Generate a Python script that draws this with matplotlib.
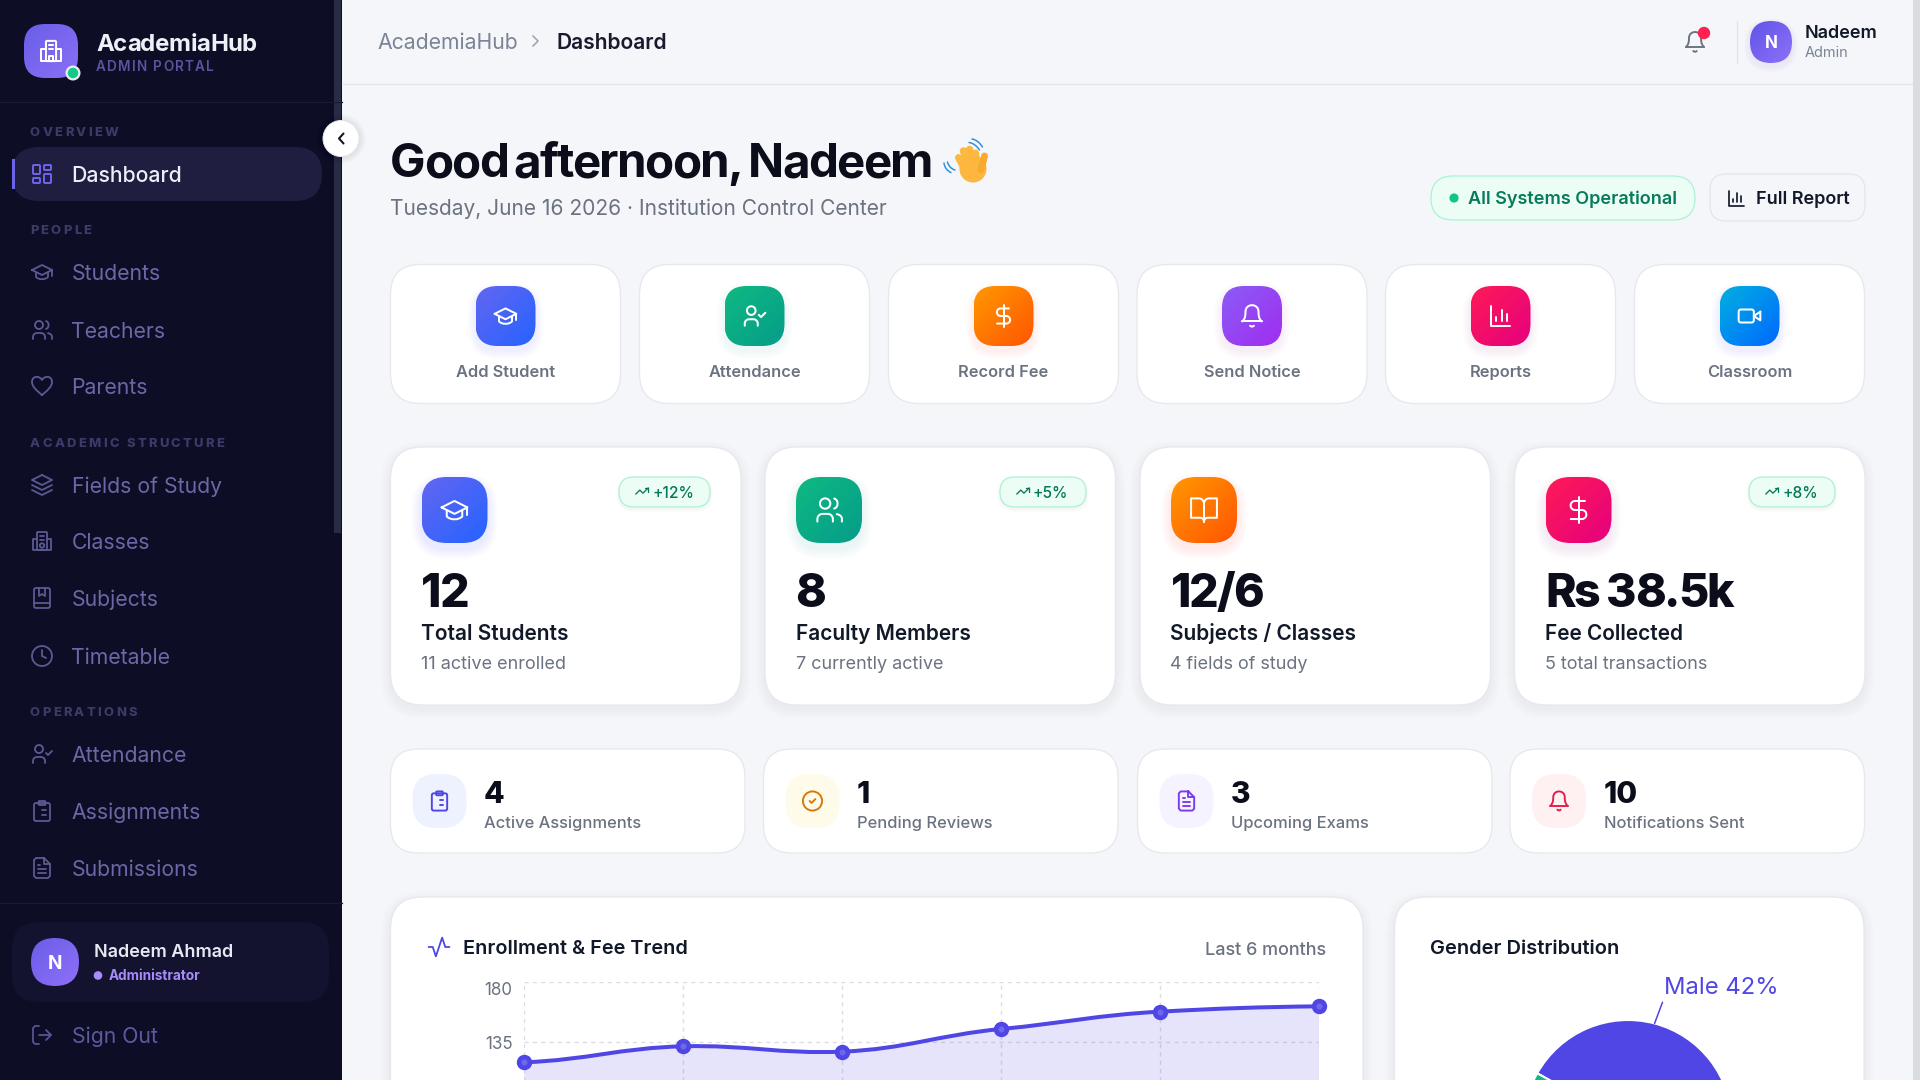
import numpy as np
import matplotlib
matplotlib.use('Agg')
import matplotlib.pyplot as plt
from matplotlib.patches import FancyBboxPatch, Circle, PathPatch
from matplotlib.path import Path
from matplotlib.colors import LinearSegmentedColormap
from matplotlib.font_manager import FontProperties

plt.rcParams['font.family'] = ['Inter', 'DejaVu Sans']

W, H = 1920, 1080

# sidebar
nav_sections = ['OVERVIEW', 'PEOPLE', 'ACADEMIC STRUCTURE', 'OPERATIONS']
nav_section_y = [131, 229, 442, 711]
nav_items = ['Students', 'Teachers', 'Parents', 'Fields of Study', 'Classes', 'Subjects',
             'Timetable', 'Attendance', 'Assignments', 'Submissions']
nav_icons = ['cap', 'users', 'heart', 'layers', 'school', 'bookmark', 'clock', 'usercheck', 'clipboard', 'file']
nav_y = [272, 330, 386, 485, 541, 598, 656, 754, 811, 868]

# quick actions
action_names = ['Add Student', 'Attendance', 'Record Fee', 'Send Notice', 'Reports', 'Classroom']
action_icons = ['cap', 'usercheck', 'dollar', 'bell', 'bars', 'video']
action_left = [390.5, 639.5, 888.5, 1137, 1385.5, 1634.5]
action_c1 = ['#6366f1', '#10b981', '#ff9800', '#8b5cf6', '#ff1a56', '#00b0e0']
action_c2 = ['#2563ff', '#059c8a', '#ff5500', '#a02df0', '#e5007f', '#0068ff']

# stat cards
stat_values = ['12', '8', '12/6', 'Rs 38.5k']
stat_labels = ['Total Students', 'Faculty Members', 'Subjects / Classes', 'Fee Collected']
stat_subs = ['11 active enrolled', '7 currently active', '4 fields of study', '5 total transactions']
stat_badges = ['+12%', '+5%', None, '+8%']
stat_icons = ['cap', 'users', 'book', 'dollar']
stat_left = [390.5, 765, 1140, 1514.5]
stat_c1 = ['#6366f1', '#10b981', '#ff9800', '#ff1a56']
stat_c2 = ['#2563ff', '#059c8a', '#ff5500', '#e5007f']
badge_left = [619, 1000, None, 1749]

# mini cards
mini_values = ['4', '1', '3', '10']
mini_labels = ['Active Assignments', 'Pending Reviews', 'Upcoming Exams', 'Notifications Sent']
mini_icons = ['clipboard', 'circlecheck', 'file', 'bell']
mini_left = [390.5, 763.5, 1137.5, 1510]
mini_bg = ['#eef2ff', '#fffbeb', '#f5f3ff', '#fff1f2']
mini_fg = ['#4f46e5', '#d97706', '#7c3aed', '#e11d48']

# trend chart
trend_values = [120, 132, 128, 145, 158, 162]
trend_ticks = [0, 45, 90, 135, 180]
trend_tick_labels = ['', '', '', '135', '180']

# pie chart
gender_names = ['Male', 'Female']
gender_values = [42, 58]
gender_colors = ['#4f46e5', '#10b981']

INDIGO = '#4f46e5'
GRAY = '#6b7280'

fig = plt.figure(figsize=(19.2, 10.8), dpi=100, facecolor='#f5f6fa')
ax = fig.add_axes([0, 0, 1, 1])
ax.set_xlim(0, W)
ax.set_ylim(H, 0)
ax.axis('off')
renderer = fig.canvas.get_renderer()


def txt(x, y, s, px, color='#111827', weight='normal', ha='left', **kw):
    # y is the middle of the capitals
    return ax.text(x, y + 0.364 * px, s, fontsize=px * 0.72, color=color, fontweight=weight,
                   ha=ha, va='baseline', **kw)


def spaced(x, y, s, px, track, color='#111827', weight='normal', space=0):
    # matplotlib has no letter spacing, so place the letters one at a time
    prop = FontProperties(family='Inter', size=px * 0.72, weight=weight)
    for i, ch in enumerate(s):
        w = renderer.get_text_width_height_descent(s[:i], prop, False)[0] if i else 0
        txt(x + w + i * track + s[:i].count(' ') * space, y, ch, px, color, weight)


def box(x0, y0, x1, y1, r, fc, ec='none', lw=1.0, z=2, alpha=None):
    p = FancyBboxPatch((x0, y0), x1 - x0, y1 - y0, boxstyle=f'round,pad=0,rounding_size={r}',
                       fc=fc, ec=ec, lw=lw * 0.72, zorder=z, alpha=alpha)
    ax.add_patch(p)
    return p


def shadow(x0, y0, x1, y1, r, dy=4, spread=10, color='#111827', alpha=0.003, z=1.5):
    for i in range(spread):
        d = spread - i
        box(x0 - d, y0 - d + dy, x1 + d, y1 + d + dy, r + d, color, z=z, alpha=alpha)


def grad_box(x0, y0, x1, y1, r, c1, c2, z=3):
    cmap = LinearSegmentedColormap.from_list('g', [c1, c2])
    g = np.linspace(0, 1, 64)
    img = np.add.outer(g, g) / 2
    im = ax.imshow(img, extent=(x0, x1, y1, y0), cmap=cmap, aspect='auto', zorder=z, interpolation='bilinear')
    clip = FancyBboxPatch((x0, y0), x1 - x0, y1 - y0, boxstyle=f'round,pad=0,rounding_size={r}',
                          fc='none', ec='none', transform=ax.transData)
    ax.add_patch(clip)
    im.set_clip_path(clip)
    ax.set_xlim(0, W)
    ax.set_ylim(H, 0)


def card(x0, y0, x1, y1, r, sh=False):
    if sh:
        shadow(x0, y0, x1, y1, r)
    box(x0, y0, x1, y1, r, 'white', '#e6e8ed', 1.3)


# line icons, drawn on a 24 unit grid with y going down
def stroke(cx, cy, s, color, lw, verts, codes=None, closed=False, z=6):
    v = np.array(verts, float)
    v = np.column_stack([cx + (v[:, 0] - 12) * s / 24, cy + (v[:, 1] - 12) * s / 24])
    if codes is None:
        codes = [Path.MOVETO] + [Path.LINETO] * (len(v) - 1)
    if closed:
        v = np.vstack([v, v[0]])
        codes = list(codes) + [Path.LINETO]
    ax.add_patch(PathPatch(Path(v, codes), fc='none', ec=color, lw=lw * 0.72, zorder=z,
                           capstyle='round', joinstyle='round'))


def curve(cx, cy, s, color, lw, pts, z=6):
    # pts: start point then cubic triples
    codes = [Path.MOVETO] + [Path.CURVE4] * (len(pts) - 1)
    stroke(cx, cy, s, color, lw, pts, codes, z=z)


def rrect(cx, cy, s, color, lw, x, y, w, h, r, z=6):
    k = s / 24
    box(cx + (x - 12) * k, cy + (y - 12) * k, cx + (x + w - 12) * k, cy + (y + h - 12) * k, r * k,
        'none', color, lw, z=z)


def circ(cx, cy, s, color, lw, x, y, r, z=6):
    k = s / 24
    ax.add_patch(Circle((cx + (x - 12) * k, cy + (y - 12) * k), r * k, fc='none', ec=color,
                        lw=lw * 0.72, zorder=z))


def icon(name, cx, cy, s, color, lw=2.0):
    a = (cx, cy, s, color, lw)
    if name == 'grid':
        rrect(*a, 3, 3, 7, 9, 1)
        rrect(*a, 14, 3, 7, 5, 1)
        rrect(*a, 14, 12, 7, 9, 1)
        rrect(*a, 3, 16, 7, 5, 1)
    elif name == 'cap':
        stroke(*a, [(2, 10), (12, 5), (22, 10), (12, 15)], closed=True)
        curve(*a, [(6, 12.5), (6, 15), (6, 17), (6, 17), (9, 20), (15, 20), (18, 17), (18, 17), (18, 15), (18, 12.5)])
        stroke(*a, [(22, 10), (22, 16)])
    elif name in ('users', 'usercheck'):
        circ(*a, 9, 7, 4)
        curve(*a, [(3, 21), (3, 19), (3, 19), (3, 19), (3, 16.5), (5, 15), (7, 15), (8, 15), (10, 15), (11, 15),
                   (13, 15), (15, 16.5), (15, 19), (15, 19), (15, 21), (15, 21)])
        if name == 'users':
            curve(*a, [(16, 3.1), (19.5, 4), (19.5, 10), (16, 10.9)])
            curve(*a, [(18, 15.2), (20.5, 15.6), (22, 17), (22, 19), (22, 20), (22, 20.5), (22, 21)])
        else:
            stroke(*a, [(16, 11), (18, 13), (22, 9)])
    elif name == 'heart':
        curve(*a, [(12, 21), (6, 16), (2, 12.5), (2, 8), (2, 1.5), (9.5, 1.5), (12, 6),
                   (14.5, 1.5), (22, 1.5), (22, 8), (22, 12.5), (18, 16), (12, 21)])
    elif name == 'layers':
        stroke(*a, [(12, 2), (2, 7), (12, 12), (22, 7)], closed=True)
        stroke(*a, [(2, 12), (12, 17), (22, 12)])
        stroke(*a, [(2, 17), (12, 22), (22, 17)])
    elif name == 'school':
        rrect(*a, 7, 3, 10, 18, 1)
        stroke(*a, [(7, 10), (3, 10), (3, 21), (21, 21), (21, 10), (17, 10)])
        stroke(*a, [(10, 7), (14, 7)])
        stroke(*a, [(10, 10.5), (14, 10.5)])
        circ(*a, 12, 16.5, 2.2)
    elif name == 'bookmark':
        rrect(*a, 4, 2, 16, 20, 2)
        stroke(*a, [(9, 2), (9, 10), (12, 8), (15, 10), (15, 2)])
        stroke(*a, [(4, 17), (20, 17)])
    elif name == 'clock':
        circ(*a, 12, 12, 10)
        stroke(*a, [(12, 6), (12, 12), (16, 14)])
    elif name == 'circlecheck':
        circ(*a, 12, 12, 10)
        stroke(*a, [(9, 12), (11, 14), (15, 10)])
    elif name == 'clipboard':
        rrect(*a, 4, 4, 16, 18, 2)
        rrect(*a, 8.5, 2, 7, 4, 1)
        stroke(*a, [(12, 11), (16, 11)])
        stroke(*a, [(12, 16), (16, 16)])
        stroke(*a, [(8, 11), (8.1, 11)])
        stroke(*a, [(8, 16), (8.1, 16)])
    elif name == 'file':
        stroke(*a, [(14, 2), (6, 2), (4, 4), (4, 20), (6, 22), (18, 22), (20, 20), (20, 8)], closed=True)
        stroke(*a, [(14, 2), (14, 8), (20, 8)])
        stroke(*a, [(8, 13), (16, 13)])
        stroke(*a, [(8, 17), (16, 17)])
        stroke(*a, [(8, 9), (10, 9)])
    elif name == 'logout':
        stroke(*a, [(9, 3), (5, 3), (3, 5), (3, 19), (5, 21), (9, 21)])
        stroke(*a, [(16, 7), (21, 12), (16, 17)])
        stroke(*a, [(21, 12), (9, 12)])
    elif name == 'dollar':
        stroke(*a, [(12, 2), (12, 22)])
        curve(*a, [(17, 5), (15, 5), (12, 5), (9.5, 5), (4.7, 5), (4.7, 12), (9.5, 12), (11, 12), (13, 12), (14.5, 12),
                   (19.3, 12), (19.3, 19), (14.5, 19), (12, 19), (9, 19), (6, 19)])
    elif name == 'bell':
        curve(*a, [(3, 17), (4.5, 15.5), (6, 14), (6, 8), (6, 0), (18, 0), (18, 8), (18, 14), (19.5, 15.5), (21, 17)])
        stroke(*a, [(3, 17), (21, 17)])
        curve(*a, [(10.3, 21), (11, 22), (13, 22), (13.7, 21)])
    elif name == 'bars':
        stroke(*a, [(3, 3), (3, 21), (21, 21)])
        stroke(*a, [(8, 17), (8, 13)])
        stroke(*a, [(13, 17), (13, 6)])
        stroke(*a, [(18, 17), (18, 10)])
    elif name == 'video':
        rrect(*a, 2, 6, 14, 12, 2)
        stroke(*a, [(22, 8), (16, 12), (22, 16)], closed=True)
    elif name == 'book':
        stroke(*a, [(12, 7), (12, 21)])
        curve(*a, [(12, 7), (12, 5), (10.5, 3), (8, 3), (6, 3), (4, 3), (2, 3), (2, 8), (2, 13), (2, 18), (5, 18),
                   (7, 18), (9, 18), (11, 18), (12, 19.5), (12, 21)])
        curve(*a, [(12, 7), (12, 5), (13.5, 3), (16, 3), (18, 3), (20, 3), (22, 3), (22, 8), (22, 13), (22, 18), (19, 18),
                   (17, 18), (15, 18), (13, 18), (12, 19.5), (12, 21)])
    elif name == 'activity':
        stroke(*a, [(2, 12), (6, 12), (9, 21), (15, 3), (18, 12), (22, 12)])
    elif name == 'trend':
        stroke(*a, [(2, 17), (8.5, 10.5), (13.5, 15.5), (22, 7)])
        stroke(*a, [(16, 7), (22, 7), (22, 13)])
    elif name == 'building':
        rrect(*a, 7.5, 3, 9, 18, 1)
        stroke(*a, [(7.5, 10), (3, 10), (3, 21), (21, 21), (21, 10), (16.5, 10)])
        stroke(*a, [(10.5, 7), (13.5, 7)])
        stroke(*a, [(10.5, 10.5), (13.5, 10.5)])
        stroke(*a, [(10, 21), (10, 16), (14, 16), (14, 21)])


# sidebar
ax.add_patch(plt.Rectangle((0, 0), 342, H, fc='#0d0d25', ec='none', zorder=1))
ax.add_patch(plt.Rectangle((334, 0), 7, 533, fc='#2a2c45', ec='none', zorder=1.1))
ax.plot([0, 342], [102, 102], color='#1a1a36', lw=0.9, zorder=1.2)
ax.plot([0, 342], [903, 903], color='#1a1a36', lw=0.9, zorder=1.2)

grad_box(24, 24, 78, 78, 21, '#6a5ee8', '#8b6ff7')
icon('building', 51, 51, 27, 'white', 2.0)
ax.add_patch(Circle((73, 73), 7.5, fc='#e8ebef', ec='none', zorder=6))
ax.add_patch(Circle((73, 73), 5.2, fc='#10c98a', ec='none', zorder=7))
spaced(96, 42.5, 'AcademiaHub', 24, -0.5, '#eef0f8', 'bold')
spaced(96, 66, 'ADMIN PORTAL', 13.5, 1.3, '#58569e', 'semibold')

for s, y in zip(nav_sections, nav_section_y):
    spaced(30, y, s, 13, 2.3, '#3c3a66', 'heavy')

box(12, 147, 322, 201, 27, '#1f1d40', z=1.3)
ax.add_patch(plt.Rectangle((12, 159), 3, 30, fc='#6c63e8', ec='none', zorder=2))
icon('grid', 42, 174, 24, '#6c63e8', 2.0)
txt(71.5, 174, 'Dashboard', 21.2, '#eceef8', 'medium')

for name, ic, y in zip(nav_items, nav_icons, nav_y):
    icon(ic, 42, y, 24, '#5b5a94', 1.8)
    txt(71.5, y, name, 21.2, '#6a68a6')

box(12, 922, 329, 1002, 27, '#14132f', z=1.3)
grad_box(31, 938, 79, 986, 24, '#6a5ee8', '#8f6ff8')
txt(55, 962, 'N', 19, 'white', 'bold', ha='center', zorder=7)
txt(94, 950, 'Nadeem Ahmad', 18, '#e6e8f2', 'semibold')
ax.add_patch(Circle((98, 975.5), 4.3, fc='#a78bfa', ec='none', zorder=5))
txt(109, 975.5, 'Administrator', 13.5, '#a78bfa', 'bold')
icon('logout', 42, 1035, 24, '#55549a', 1.8)
txt(71.5, 1035, 'Sign Out', 21.2, '#5a5aa0')

# collapse button
for i in range(8):
    ax.add_patch(Circle((341, 139), 25 - i, fc='#000000', ec='none', alpha=0.012, zorder=7))
ax.add_patch(Circle((341, 138.5), 18, fc='white', ec='#e5e7eb', lw=0.7, zorder=8))
ax.plot([343.5, 339, 343.5], [133.5, 138.5, 143.5], color='#111827', lw=1.5, zorder=9,
        solid_capstyle='round', solid_joinstyle='round')

# top bar
ax.plot([342, 1913], [83.5, 83.5], color='#e2e4e9', lw=0.9, zorder=1)
ax.add_patch(plt.Rectangle((1913, 0), 7, H, fc='#d9dce1', ec='none', zorder=1))
txt(377.5, 41, 'AcademiaHub', 21.2, '#7b8494')
ax.plot([533, 538, 533], [36, 41, 46], color='#9aa1ad', lw=1.1, zorder=3)
txt(556.5, 41, 'Dashboard', 21, '#1a1a2e', 'semibold')
icon('bell', 1695, 42, 24, '#6b7280', 1.9)
ax.add_patch(Circle((1704, 33), 6.2, fc='#ff2052', ec='none', zorder=8))
ax.plot([1737, 1737], [21, 63], color='#e2e4e9', lw=0.9, zorder=2)
shadow(1750, 21, 1792, 63, 21, dy=3, spread=6, color='#4f46e5', alpha=0.012)
grad_box(1750, 21, 1792, 63, 21, '#5f55e8', '#8f70f8')
txt(1771, 42, 'N', 17, 'white', 'bold', ha='center', zorder=7)
txt(1805, 31, 'Nadeem', 18, '#111827', 'semibold')
txt(1805, 52, 'Admin', 14.5, '#7b8494')

# greeting
spaced(390, 160, 'Good afternoon, Nadeem', 47.5, -1.6, '#0b0d1a', 'bold', space=-4)
txt(390, 207, 'Tuesday, June 16 2026 · Institution Control Center', 20.9, GRAY)

# waving hand, drawn in page pixels
for (x0, y0, x1, y1, w) in [(965, 170, 958.5, 157.5, 7), (969, 165, 963.5, 151, 7.5), (973, 163, 969.5, 149.5, 7.5),
                            (977, 163, 975.5, 153, 7)]:
    ax.plot([x0, x1], [y0, y1], color='#fcb83f', lw=w * 0.72, solid_capstyle='round', zorder=5)
ax.add_patch(Circle((973, 169), 13.5, fc='#fdb63e', ec='none', zorder=5))
ax.plot([981, 984.5], [170, 156], color='#f9a92f', lw=5, solid_capstyle='round', zorder=5)
curve(12, 12, 24, '#2f8fd8', 1.5, [(969, 142.5), (973, 143), (977, 146), (979.5, 150)])
curve(12, 12, 24, '#2f8fd8', 1.5, [(972, 139), (976, 139.5), (980, 143), (982.5, 147)])
curve(12, 12, 24, '#2f8fd8', 1.5, [(947.5, 162), (948, 165), (951, 169), (955, 170)])
curve(12, 12, 24, '#2f8fd8', 1.5, [(944, 163), (944.5, 167), (947, 171), (951, 172.5)])

# status pill and report button
box(1431, 176, 1695, 220, 22, '#ecfdf5', '#a7f3d0', 1.2)
ax.add_patch(Circle((1454, 198), 4.6, fc='#10c58a', ec='none', zorder=4))
txt(1468, 197, 'All Systems Operational', 18.1, '#0a7a5c', 'semibold')
box(1710, 174, 1865, 221, 16, '#f5f6fa', '#e3e5ea', 1.2)
icon('bars', 1736, 198, 20, '#111827', 1.7)
txt(1756, 197, 'Full Report', 18, '#111827', 'semibold')

# quick actions
for x, name, ic, c1, c2 in zip(action_left, action_names, action_icons, action_c1, action_c2):
    x1 = x + 230
    card(x, 264.5, x1, 403.5, 30)
    mid = (x + x1) / 2
    shadow(mid - 30, 286, mid + 30, 346, 22, dy=5, spread=8, color=c2, alpha=0.008, z=2.5)
    grad_box(mid - 30, 286, mid + 30, 346, 22, c1, c2)
    icon(ic, mid, 316, 26, 'white', 2.0)
    txt(mid, 371, name, 16.4, GRAY, 'semibold', ha='center')

# stat cards
for i, x in enumerate(stat_left):
    card(x, 447, x + 350.5, 705, 32, sh=True)
    shadow(x + 31, 477, x + 97, 543, 25, dy=6, spread=10, color=stat_c2[i], alpha=0.008, z=2.5)
    grad_box(x + 31, 477, x + 97, 543, 25, stat_c1[i], stat_c2[i])
    icon(stat_icons[i], x + 64, 510, 31, 'white', 2.0)
    spaced(x + 30.5, 590, stat_values[i], 46.5, -2.1, '#0b0d1a', 'heavy')
    txt(x + 30.5, 632.5, stat_labels[i], 20.9, '#111827', 'semibold')
    txt(x + 30.5, 662, stat_subs[i], 18, GRAY)
    if stat_badges[i]:
        bx = badge_left[i]
        bw = 91 if len(stat_badges[i]) == 4 else 86
        shadow(bx, 477, bx + bw, 507, 15, dy=2, spread=3, alpha=0.01, z=2.5)
        box(bx, 477, bx + bw, 507, 15, '#ecfdf5', '#a7f3d0', 1.2, z=3)
        icon('trend', bx + 23, 491, 15, '#047857', 1.3)
        txt(bx + 33, 492, stat_badges[i], 15.5, '#047857', 'medium', zorder=6)

# mini cards
for i, x in enumerate(mini_left):
    card(x, 749, x + 354.5, 853, 28)
    box(x + 22, 774, x + 76, 828, 24, mini_bg[i], z=3)
    icon(mini_icons[i], x + 49, 801, 23, mini_fg[i], 1.9)
    txt(x + 93.5, 792, mini_values[i], 30, '#0b0d1a', 'heavy')
    txt(x + 93.5, 822, mini_labels[i], 16.5, GRAY, 'medium')

# bottom cards
card(390.5, 897, 1363, 1120, 32, sh=True)
card(1394.5, 897, 1864, 1120, 32, sh=True)
icon('activity', 439, 947, 25, INDIGO, 1.8)
txt(463, 947, 'Enrollment & Fee Trend', 19.9, '#111827', 'semibold')
txt(1326, 948, 'Last 6 months', 18, GRAY, 'medium', ha='right')
txt(1430, 947, 'Gender Distribution', 20, '#111827', 'semibold')

# trend chart, its axes runs past the bottom of the picture
px_left, px_right = 524.4, 1319.4
px_top, px_bottom = 982.3, 1222.3
tax = fig.add_axes([px_left / W, 1 - px_bottom / H, (px_right - px_left) / W, (px_bottom - px_top) / H])
tax.patch.set_alpha(0)
xs = np.arange(len(trend_values))
tax.set_xlim(xs[0], xs[-1])
tax.set_ylim(trend_ticks[0], trend_ticks[-1])
tax.set_yticks(trend_ticks)
tax.set_yticklabels(trend_tick_labels)
tax.get_yticklabels()[-1].set_va('top')
tax.set_xticks(xs)
tax.set_xticklabels([])
tax.tick_params(length=0, pad=8.5, labelsize=17 * 0.72, labelcolor='#6b7280')
tax.grid(True, color='#dcdee4', lw=1.0, linestyle=(0, (3, 3)))
tax.set_axisbelow(True)
for sp in tax.spines.values():
    sp.set_visible(False)

# smooth curve through the values
verts = [(xs[0], trend_values[0])]
codes = [Path.MOVETO]
for i in range(len(xs) - 1):
    y0, y1 = trend_values[i], trend_values[i + 1]
    prev = trend_values[max(i - 1, 0)]
    nxt = trend_values[min(i + 2, len(xs) - 1)]
    verts += [(xs[i] + 0.4, y0 + (y1 - prev) * 0.15), (xs[i + 1] - 0.4, y1 - (nxt - y0) * 0.15), (xs[i + 1], y1)]
    codes += [Path.CURVE4] * 3
fill_verts = verts + [(xs[-1], 0), (xs[0], 0), verts[0]]
fill_codes = codes + [Path.LINETO, Path.LINETO, Path.CLOSEPOLY]
tax.add_patch(PathPatch(Path(fill_verts, fill_codes), fc=INDIGO, ec='none', alpha=0.14, zorder=1.5))
tax.add_patch(PathPatch(Path(verts, codes), fc='none', ec=INDIGO, lw=4 * 0.72, zorder=3, capstyle='round'))
tax.plot(xs, trend_values, 'o', ms=14 * 0.72, mfc=INDIGO, mec=INDIGO, clip_on=False, zorder=4)
tax.plot(xs, trend_values, 'o', ms=6 * 0.72, mfc='#6f68ea', mec='none', clip_on=False, zorder=5)

# pie chart, also cut off by the bottom of the picture
pie_r = 104
pad = 1.3
pie_cx, pie_cy = 1628, 1124
side = 2 * pie_r * pad
pax = fig.add_axes([(pie_cx - side / 2) / W, 1 - (pie_cy + side / 2) / H, side / W, side / H])
pax.pie(gender_values, colors=gender_colors, startangle=150.8, counterclock=False, radius=1,
        wedgeprops={'edgecolor': 'white', 'linewidth': 1.5})
pax.set_xlim(-pad, pad)
pax.set_ylim(-pad, pad)
mid_angle = np.deg2rad(150.8 - gender_values[0] / sum(gender_values) * 180)
pax.annotate(f'{gender_names[0]} {gender_values[0]}%', xy=(np.cos(mid_angle), np.sin(mid_angle)),
             xytext=(9, 24), textcoords='offset pixels', color=INDIGO, fontsize=23.8 * 0.72,
             ha='left', va='bottom', annotation_clip=False,
             arrowprops={'arrowstyle': '-', 'color': INDIGO, 'lw': 1.1, 'shrinkA': 0, 'shrinkB': 0,
                         'relpos': (0, 0)})

fig.savefig('out.png', dpi=100, facecolor=fig.get_facecolor())
